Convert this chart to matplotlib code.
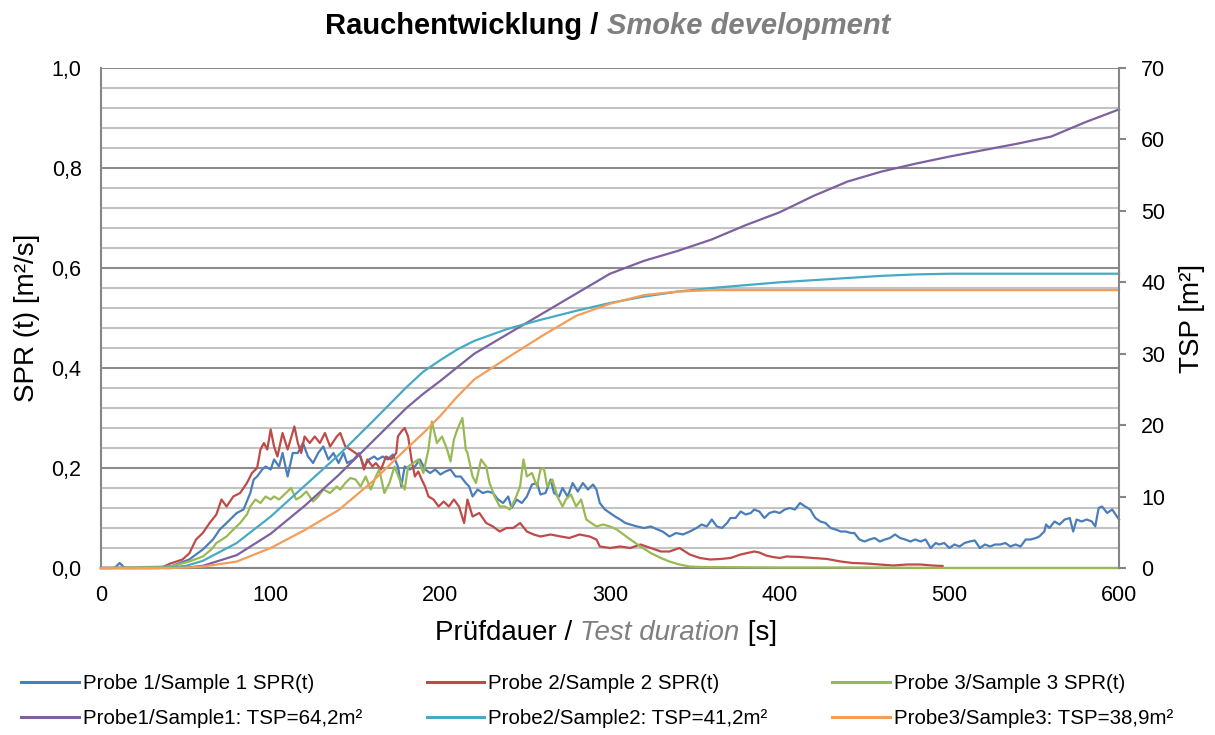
import matplotlib
matplotlib.use("Agg")
import matplotlib.pyplot as plt
from matplotlib.ticker import MultipleLocator
import numpy as np

plt.rcParams['font.family'] = ['Liberation Sans', 'DejaVu Sans']

# SPR(t) readings [s] / [m²/s]
t_spr1 = [0, 8, 11, 14, 30, 41, 52, 60, 66, 70,
          74, 80, 84, 88, 90, 92, 95, 97, 100, 102,
          105, 107, 110, 113, 116, 119, 122, 125, 128, 131,
          134, 137, 140, 143, 145, 149, 152, 155, 158, 161,
          163, 166, 169, 172, 175, 177, 179, 182, 185, 188,
          191, 194, 197, 200, 203, 206, 209, 212, 215, 217,
          219, 222, 225, 228, 231, 234, 237, 240, 242, 245,
          248, 251, 254, 257, 259, 262, 265, 267, 270, 272,
          275, 278, 281, 284, 287, 290, 292, 294, 297, 300,
          303, 306, 309, 312, 316, 320, 324, 328, 331, 335,
          339, 343, 347, 351, 354, 357, 360, 363, 366, 369,
          371, 374, 377, 380, 383, 385, 388, 391, 394, 397,
          400, 403, 406, 409, 412, 415, 418, 421, 424, 427,
          430, 433, 436, 439, 442, 444, 447, 450, 453, 456,
          459, 462, 465, 468, 471, 474, 477, 480, 483, 486,
          489, 492, 494, 497, 500, 503, 506, 509, 512, 515,
          518, 521, 524, 527, 530, 533, 536, 539, 542, 545,
          548, 551, 553, 556, 557, 559, 562, 565, 568, 571,
          573, 575, 578, 581, 584, 586, 588, 590, 593, 596,
          598, 600]
spr1 = [0.0, 0.0, 0.01, 0.0, 0.0, 0.003, 0.017, 0.037, 0.057, 0.077,
        0.09, 0.11, 0.117, 0.15, 0.177, 0.183, 0.197, 0.203, 0.197, 0.217,
        0.203, 0.23, 0.183, 0.23, 0.23, 0.25, 0.223, 0.21, 0.23, 0.243,
        0.217, 0.23, 0.21, 0.23, 0.21, 0.217, 0.23, 0.203, 0.217, 0.223,
        0.217, 0.223, 0.217, 0.227, 0.203, 0.163, 0.203, 0.197, 0.203, 0.217,
        0.197, 0.19, 0.197, 0.187, 0.193, 0.197, 0.183, 0.183, 0.17, 0.163,
        0.143, 0.157, 0.15, 0.153, 0.15, 0.137, 0.13, 0.143, 0.12, 0.137,
        0.13, 0.143, 0.167, 0.17, 0.147, 0.15, 0.177, 0.15, 0.143, 0.16,
        0.143, 0.17, 0.153, 0.17, 0.157, 0.167, 0.157, 0.13, 0.117, 0.11,
        0.103, 0.097, 0.09, 0.087, 0.083, 0.08, 0.083, 0.077, 0.073, 0.063,
        0.07, 0.067, 0.073, 0.08, 0.087, 0.083, 0.097, 0.083, 0.08, 0.09,
        0.1, 0.1, 0.113, 0.107, 0.11, 0.117, 0.113, 0.1, 0.11, 0.113,
        0.11, 0.117, 0.12, 0.117, 0.13, 0.123, 0.117, 0.1, 0.093, 0.09,
        0.08, 0.077, 0.073, 0.073, 0.07, 0.07, 0.057, 0.053, 0.057, 0.06,
        0.053, 0.057, 0.06, 0.067, 0.06, 0.057, 0.053, 0.057, 0.053, 0.057,
        0.04, 0.05, 0.047, 0.05, 0.04, 0.047, 0.043, 0.05, 0.053, 0.055,
        0.04, 0.047, 0.043, 0.047, 0.047, 0.05, 0.043, 0.047, 0.043, 0.057,
        0.057, 0.06, 0.063, 0.073, 0.087, 0.08, 0.093, 0.087, 0.097, 0.1,
        0.073, 0.097, 0.093, 0.097, 0.093, 0.083, 0.12, 0.123, 0.11, 0.117,
        0.107, 0.097]

t_spr2 = [0, 35, 41, 48, 52, 56, 60, 64, 68, 71,
          74, 78, 82, 86, 89, 92, 94, 96, 98, 100,
          102, 104, 107, 110, 114, 116, 118, 120, 123, 126,
          129, 132, 135, 139, 141, 144, 147, 150, 153, 155,
          157, 160, 162, 165, 168, 171, 174, 175, 177, 179,
          181, 183, 185, 187, 189, 191, 193, 196, 199, 202,
          205, 208, 211, 214, 216, 219, 223, 227, 231, 235,
          239, 243, 247, 251, 255, 259, 265, 271, 276, 282,
          288, 292, 294, 300, 306, 312, 318, 324, 330, 335,
          341, 347, 353, 359, 365, 371, 377, 381, 385, 388,
          392, 396, 400, 404, 412, 420, 428, 436, 443, 451,
          459, 467, 475, 483, 490, 496]
spr2 = [0.0, 0.0, 0.009, 0.017, 0.029, 0.057, 0.07, 0.09, 0.107, 0.137,
        0.123, 0.143, 0.15, 0.17, 0.19, 0.2, 0.237, 0.25, 0.237, 0.277,
        0.243, 0.223, 0.27, 0.237, 0.283, 0.25, 0.23, 0.263, 0.25, 0.263,
        0.25, 0.27, 0.243, 0.263, 0.27, 0.243, 0.237, 0.23, 0.223, 0.197,
        0.217, 0.203, 0.21, 0.197, 0.223, 0.217, 0.23, 0.263, 0.273, 0.28,
        0.263, 0.217, 0.183, 0.193, 0.177, 0.163, 0.143, 0.137, 0.123, 0.133,
        0.123, 0.137, 0.123, 0.09, 0.137, 0.103, 0.11, 0.09, 0.083, 0.073,
        0.08, 0.08, 0.09, 0.073, 0.067, 0.063, 0.067, 0.063, 0.06, 0.067,
        0.063, 0.057, 0.043, 0.04, 0.043, 0.04, 0.047, 0.04, 0.033, 0.033,
        0.04, 0.027, 0.02, 0.017, 0.018, 0.02, 0.027, 0.03, 0.033, 0.031,
        0.025, 0.022, 0.02, 0.023, 0.022, 0.02, 0.018, 0.013, 0.01, 0.009,
        0.007, 0.005, 0.007, 0.007, 0.005, 0.004]

t_spr3 = [0, 41, 52, 60, 65, 68, 74, 78, 82, 86,
          88, 91, 94, 97, 100, 102, 105, 109, 112, 115,
          118, 121, 125, 128, 131, 135, 139, 141, 144, 147,
          150, 153, 156, 159, 162, 164, 167, 170, 173, 176,
          179, 181, 184, 187, 190, 193, 195, 198, 201, 204,
          206, 208, 210, 213, 215, 216, 219, 221, 224, 227,
          229, 232, 235, 238, 241, 244, 247, 249, 251, 254,
          257, 259, 261, 263, 266, 269, 272, 274, 277, 280,
          283, 286, 289, 292, 296, 300, 304, 308, 312, 318,
          324, 330, 335, 341, 347, 353, 400, 450, 500, 600]
spr3 = [0.0, 0.003, 0.013, 0.023, 0.037, 0.05, 0.063, 0.077, 0.09, 0.107,
        0.123, 0.137, 0.13, 0.143, 0.137, 0.143, 0.137, 0.15, 0.16, 0.137,
        0.143, 0.153, 0.133, 0.143, 0.157, 0.15, 0.163, 0.157, 0.17, 0.18,
        0.177, 0.163, 0.183, 0.157, 0.183, 0.197, 0.15, 0.17, 0.203, 0.177,
        0.157, 0.203, 0.21, 0.217, 0.19, 0.237, 0.293, 0.25, 0.263, 0.237,
        0.213, 0.257, 0.277, 0.3, 0.237, 0.23, 0.183, 0.17, 0.217, 0.203,
        0.17, 0.143, 0.123, 0.123, 0.117, 0.137, 0.163, 0.217, 0.183, 0.19,
        0.163, 0.197, 0.2, 0.163, 0.177, 0.143, 0.123, 0.137, 0.147, 0.123,
        0.137, 0.097, 0.09, 0.083, 0.087, 0.083, 0.077, 0.067, 0.057, 0.043,
        0.03, 0.02, 0.013, 0.007, 0.003, 0.002, 0.001, 0.001, 0.0, 0.0]

# TSP readings [s] / [m²]
t_tsp = [0, 20, 40, 50, 60, 80, 100, 120, 140, 160, 180, 190, 200, 210, 220,
         240, 260, 280, 300, 320, 340, 360, 380, 400, 420, 440, 460, 480, 500,
         520, 540, 560, 580, 600]
tsp1 = [0, 0, 0, 0.05, 0.3, 1.8, 4.8, 8.7, 13.0, 17.7, 22.4, 24.4, 26.2, 28.1,
        30.0, 32.8, 35.6, 38.4, 41.2, 43.0, 44.4, 46.0, 48.0, 49.8, 52.1, 54.1,
        55.5, 56.6, 57.6, 58.5, 59.4, 60.4, 62.4, 64.2]
tsp2 = [0, 0, 0.05, 0.3, 1.0, 3.5, 7.2, 11.5, 15.8, 20.5, 25.3, 27.5, 29.1, 30.6,
        31.8, 33.5, 34.8, 36.0, 37.1, 38.0, 38.7, 39.2, 39.6, 40.0, 40.3, 40.6,
        40.9, 41.1, 41.2, 41.2, 41.2, 41.2, 41.2, 41.2]
tsp3 = [0, 0, 0, 0.05, 0.2, 0.9, 2.8, 5.3, 8.1, 12.1, 16.7, 18.9, 21.3, 24.0,
        26.4, 29.5, 32.5, 35.3, 37.0, 38.2, 38.7, 38.9, 38.9, 38.9, 38.9, 38.9,
        38.9, 38.9, 38.9, 38.9, 38.9, 38.9, 38.9, 38.9]

spr_labels = ['Probe 1/Sample 1 SPR(t)', 'Probe 2/Sample 2 SPR(t)',
              'Probe 3/Sample 3 SPR(t)']
tsp_labels = ['Probe1/Sample1: TSP=64,2m²', 'Probe2/Sample2: TSP=41,2m²',
              'Probe3/Sample3: TSP=38,9m²']
x_ticks = [0, 100, 200, 300, 400, 500, 600]
y_ticks = [0.0, 0.2, 0.4, 0.6, 0.8, 1.0]
y_ticklabels = ['0,0', '0,2', '0,4', '0,6', '0,8', '1,0']
y2_ticks = [0, 10, 20, 30, 40, 50, 60, 70]

spr_colors = ['#4A7EBB', '#BE4B48', '#98B954']
tsp_colors = ['#7D60A0', '#46AAC5', '#F59D56']
grey = '#868686'
label_grey = '#7F7F7F'

W, H = 1215, 735
fig = plt.figure(figsize=(W / 100, H / 100), dpi=100)
ax = fig.add_axes([101 / W, 1 - 568 / H, 1018 / W, 500 / H])
ax2 = ax.twinx()

lines = []
for t, v, c, lab in zip([t_spr1, t_spr2, t_spr3], [spr1, spr2, spr3],
                        spr_colors, spr_labels):
    ln, = ax.plot(t, v, color=c, lw=1.6, label=lab, clip_on=False, zorder=3)
    lines.append(ln)
lines2 = []
for v, c, lab in zip([tsp1, tsp2, tsp3], tsp_colors, tsp_labels):
    ln, = ax2.plot(t_tsp, v, color=c, lw=1.6, label=lab, clip_on=False)
    lines2.append(ln)

ax.set_xlim(0, 600)
ax.set_ylim(0, 1.0)
ax2.set_ylim(0, 70)
ax.set_xticks(x_ticks)
ax.set_yticks(y_ticks)
ax.set_yticklabels(y_ticklabels)
ax2.set_yticks(y2_ticks)
ax.yaxis.set_minor_locator(MultipleLocator(0.04))
ax.set_axisbelow(True)
ax.grid(axis='y', which='major', color='#8C8C8C', lw=1.5)
ax.grid(axis='y', which='minor', color='#C3C3C3', lw=1.5)

ax.tick_params(axis='both', which='both', length=0, labelsize=15.5)
ax.tick_params(axis='x', pad=12)
ax.tick_params(axis='y', pad=14)
ax2.tick_params(axis='y', length=5, width=1.5, color=grey, labelsize=15.5, pad=11)

for s in ['top', 'right']:
    ax.spines[s].set_visible(False)
for s in ['left', 'bottom']:
    ax.spines[s].set_color(grey)
    ax.spines[s].set_linewidth(1.5)
for s in ['left', 'top', 'bottom']:
    ax2.spines[s].set_visible(False)
ax2.spines['right'].set_color(grey)
ax2.spines['right'].set_linewidth(1.5)

ax.set_ylabel('SPR (t) [m²/s]', fontsize=20)
ax.yaxis.set_label_coords(-0.06, 0.5)
ax2.set_ylabel('TSP [m²]', fontsize=20)
ax2.yaxis.set_label_coords(1.059, 0.5)


def mixed_text(y, parts, size, cx=0.5):
    # draw consecutive text pieces on one baseline and center them
    first = fig.text(0, y, parts[0][0], fontsize=size, va='bottom', **parts[0][1])
    prev = first
    texts = [first]
    for s, kw in parts[1:]:
        prev = ax.annotate(s, xy=(1, 0), xycoords=prev, va='bottom',
                           fontsize=size, annotation_clip=False, **kw)
        texts.append(prev)
    fig.canvas.draw()
    r = fig.canvas.get_renderer()
    x0 = texts[0].get_window_extent(r).x0
    x1 = texts[-1].get_window_extent(r).x1
    first.set_x(cx - (x1 - x0) / 2 / W)


mixed_text(1 - 40 / H, [('Rauchentwicklung / ', dict(fontweight='bold')),
                        ('Smoke development', dict(fontweight='bold', style='italic',
                                                   color=label_grey))], 21)
mixed_text(1 - 646 / H, [('Prüfdauer / ', {}),
                         ('Test duration', dict(style='italic', color=label_grey)),
                         (' [s]', {})], 20, cx=606 / W)

handles = [lines[0], lines2[0], lines[1], lines2[1], lines[2], lines2[2]]
leg = fig.legend(handles=handles, labels=[h.get_label() for h in handles],
                 loc='upper left', bbox_to_anchor=(21 / W, 1 - 674 / H), ncol=3,
                 frameon=False, fontsize=14.8, handlelength=2.8, handletextpad=0.2,
                 columnspacing=3.15, labelspacing=0.8, borderpad=0, borderaxespad=0)
for h in leg.legend_handles:
    h.set_linewidth(2.2)

fig.savefig('out.png', dpi=100)
